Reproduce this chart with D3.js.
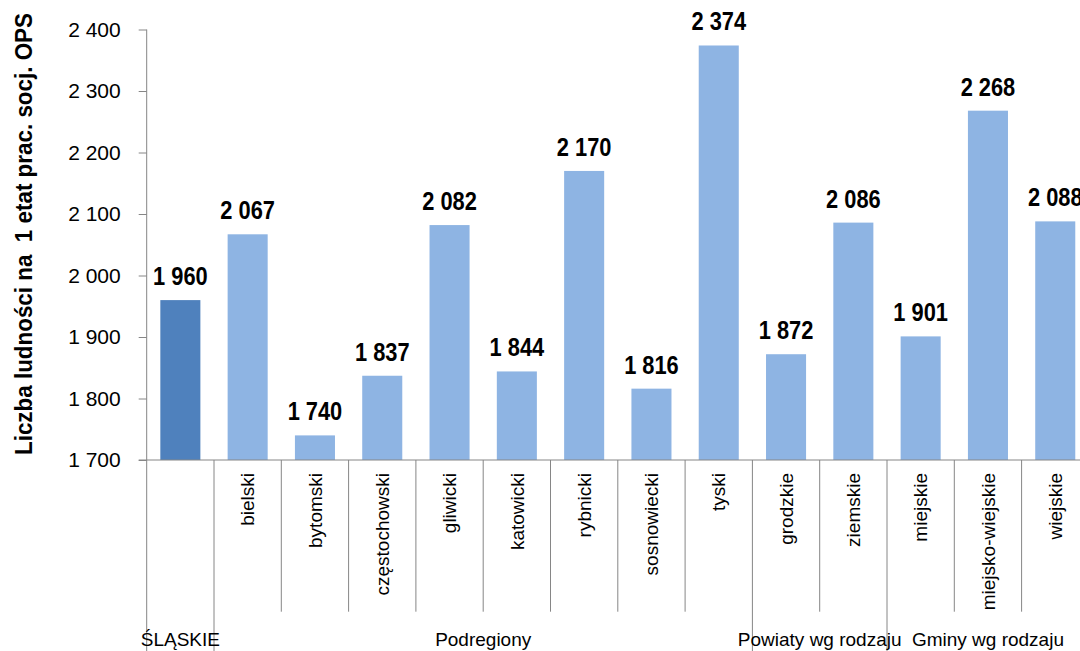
<!DOCTYPE html>
<html><head><meta charset="utf-8">
<script src="https://cdn.jsdelivr.net/npm/d3@7/dist/d3.min.js"></script>
<style>
html,body{margin:0;padding:0;background:#fff;overflow:hidden}
text{font-family:"Liberation Sans",Arial,sans-serif;fill:#000}
</style></head>
<body>
<svg id="chart" width="1080" height="651"></svg>
<script>
const categories = ["ŚLĄSKIE","bielski","bytomski","częstochowski","gliwicki","katowicki","rybnicki","sosnowiecki","tyski","grodzkie","ziemskie","miejskie","miejsko-wiejskie","wiejskie"];
const values = [1960,2067,1740,1837,2082,1844,2170,1816,2374,1872,2086,1901,2268,2088];
const categoryLabels = ["","bielski","bytomski","częstochowski","gliwicki","katowicki","rybnicki","sosnowiecki","tyski","grodzkie","ziemskie","miejskie","miejsko-wiejskie","wiejskie"];
const groupNames = ["ŚLĄSKIE","Podregiony","Powiaty wg rodzaju","Gminy wg rodzaju"];
const groupStarts = [0,1,9,11];
const groupEnds = [1,9,11,14];
const yTicks = [1700,1800,1900,2000,2100,2200,2300,2400];
const yTitle = "Liczba ludności na  1 etat prac. socj. OPS";

const svg = d3.select("#chart");
const plotLeft = 146.7, step = 67.3, plotBottom = 460, plotTop = 29.5;
const x = d3.scaleBand().domain(categories).range([plotLeft, plotLeft + step*categories.length])
  .paddingInner(0.405).paddingOuter(0.2025);
const y = d3.scaleLinear().domain([1700,2400]).range([plotBottom, plotTop]);
const fmt = v => d3.format(",")(v).replace(/,/g, " ");
const axisColor = "#868686";

// bars
svg.selectAll("rect.bar").data(categories).enter().append("rect")
  .attr("x", d => x(d)).attr("width", x.bandwidth())
  .attr("y", (d,i) => y(values[i])).attr("height", (d,i) => plotBottom - y(values[i]))
  .attr("fill", (d,i) => i === 0 ? "#4F81BD" : "#8EB4E3");

// y axis
const yAxis = d3.axisLeft(y).tickValues(yTicks).tickSize(8).tickPadding(18).tickFormat(fmt);
const gy = svg.append("g").attr("transform", `translate(${plotLeft},0)`).call(yAxis);
gy.select(".domain").remove();
gy.selectAll(".tick line").attr("stroke", axisColor);
gy.selectAll(".tick text").style("font-size","21px").style("font-family","'Liberation Sans',Arial,sans-serif").attr("fill","#000");
svg.append("line").attr("x1", plotLeft).attr("x2", plotLeft).attr("y1", plotTop).attr("y2", 651).attr("stroke", axisColor);
svg.append("line").attr("x1", plotLeft - 8).attr("x2", 1080).attr("y1", plotBottom).attr("y2", plotBottom).attr("stroke", axisColor);

// separators
const longSet = new Set([0,1,9,11,14]);
d3.range(1, categories.length + 1).forEach(k => {
  const xx = plotLeft + step*k;
  svg.append("line").attr("x1", xx).attr("x2", xx).attr("y1", plotBottom)
    .attr("y2", longSet.has(k) ? 651 : 611.7).attr("stroke", axisColor);
});

// category labels
svg.selectAll("text.cat").data(categories).enter().append("text")
  .attr("transform", d => `translate(${x(d) + x.bandwidth()/2},${plotBottom + 13}) rotate(-90)`)
  .attr("dy", "0.35em").attr("text-anchor", "end")
  .style("font-size", "19px")
  .text((d,i) => categoryLabels[i]);

// group labels
groupNames.forEach((g,i) => {
  const cx = plotLeft + step*(groupStarts[i] + groupEnds[i])/2;
  svg.append("text").attr("x", cx).attr("y", 646).attr("text-anchor","middle")
    .style("font-size","19px").text(g);
});

// value labels
svg.selectAll("text.val").data(categories).enter().append("text")
  .attr("transform", (d,i) => `translate(${x(d) + x.bandwidth()/2},${y(values[i]) - 15}) scale(0.84,1)`)
  .attr("text-anchor","middle").style("font-size","26px").style("font-weight","bold")
  .text((d,i) => fmt(values[i]));

// y title
svg.append("text").attr("transform", `translate(32,234) rotate(-90)`)
  .attr("text-anchor","middle").style("font-size","24px").style("font-weight","bold")
  .attr("textLength", 442).attr("lengthAdjust","spacingAndGlyphs")
  .style("white-space","pre").attr("xml:space","preserve")
  .text(yTitle);
</script>
</body></html>
